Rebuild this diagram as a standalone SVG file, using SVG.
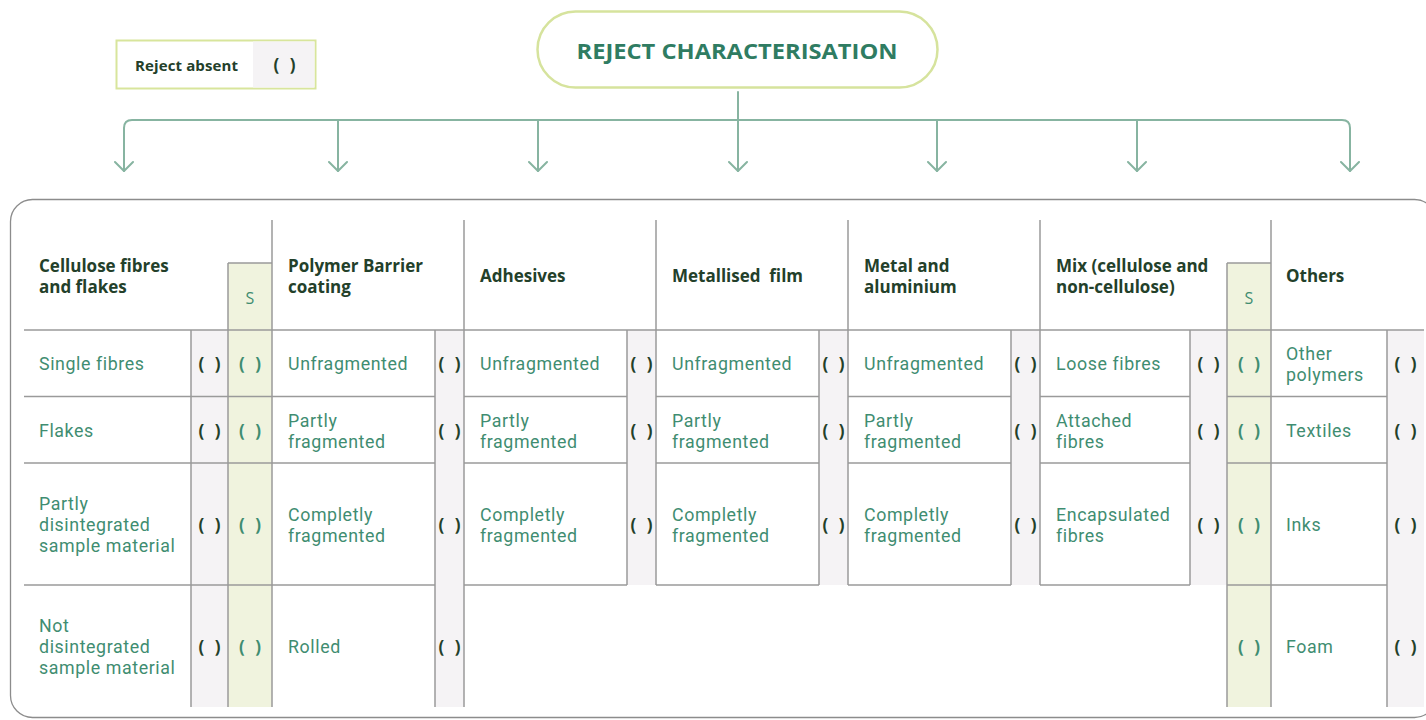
<svg xmlns="http://www.w3.org/2000/svg" width="1426" height="720" viewBox="0 0 1426 720">
<defs>
<style>
text{font-family:"Open Sans","Liberation Sans",sans-serif;}
.hd{font-size:17px;font-weight:700;fill:#23402a;white-space:pre;}
.tx{font-family:Roboto,"Liberation Sans",sans-serif;font-size:17.8px;fill:#3f8d71;letter-spacing:0.6px;}
.s{font-size:16px;fill:#3f8d71;text-anchor:middle;}
.pd{font-size:17px;font-weight:700;fill:#23402a;text-anchor:middle;letter-spacing:3px;}
.pg{font-size:17px;font-weight:700;fill:#3f8d71;text-anchor:middle;letter-spacing:3px;}
.ln{stroke:#9a9a9a;stroke-width:1.5;fill:none;}
.gr{fill:#f5f3f5;}
.sc{fill:#f0f3de;}
.ar{stroke:#87b4a1;stroke-width:2;fill:none;stroke-linecap:round;stroke-linejoin:round;}
</style>
</defs>

<g id="legend">
<rect x="116.5" y="40.5" width="199" height="48" fill="#fff" stroke="#d8e59c" stroke-width="2"/>
<rect x="253" y="41.5" width="61.5" height="46" class="gr"/>
<text x="135" y="71" font-size="15" font-weight="700" fill="#23402a" textLength="103">Reject absent</text>
<text x="286" y="71" class="pd">( )</text>
</g>

<g id="title">
<rect x="537.5" y="11.5" width="400" height="76" rx="38" fill="#fff" stroke="#d6e39d" stroke-width="2.5"/>
<text x="737" y="59" font-size="22" font-weight="700" fill="#2f7c62" text-anchor="middle" textLength="321" lengthAdjust="spacingAndGlyphs">REJECT CHARACTERISATION</text>
</g>

<g id="connectors">
<path class="ar" d="M124,171 V128 Q124,120 132,120 H1342 Q1350,120 1350,128 V171"/>
<path class="ar" d="M738,92 V171 M338,120 V171 M538,120 V171 M937,120 V171 M1137,120 V171"/>
<path class="ar" d="M115,162 L124,171 L133,162 M329,162 L338,171 L347,162 M529,162 L538,171 L547,162 M729,162 L738,171 L747,162 M928,162 L937,171 L946,162 M1128,162 L1137,171 L1146,162 M1341,162 L1350,171 L1359,162"/>
</g>

<g id="table">
<rect x="10.5" y="199.5" width="1426" height="518" rx="22" fill="#fff" stroke="#8c8c8c" stroke-width="1.3"/>
<rect x="191" y="330" width="37" height="377" class="gr"/>
<rect x="228" y="263" width="44" height="444" class="sc"/>
<rect x="435" y="330" width="29" height="377" class="gr"/>
<rect x="627" y="330" width="29" height="255" class="gr"/>
<rect x="819" y="330" width="29" height="255" class="gr"/>
<rect x="1011" y="330" width="29" height="255" class="gr"/>
<rect x="1190" y="330" width="37" height="255" class="gr"/>
<rect x="1227" y="263" width="44" height="444" class="sc"/>
<rect x="1387" y="330" width="37" height="377" class="gr"/>
<path class="ln" d="M24,330 H1424
M24,396.5 H272 M24,463 H272 M24,585 H272
M191,330 V707 M228,263 V707 M272,220 V707 M228,263 H272
M272,396.5 H435 M272,463 H435 M272,585 H435 M435,330 V707 M464,220 V707
M464,396.5 H627 M464,463 H627 M464,585 H627 M627,330 V585 M656,220 V585
M656,396.5 H819 M656,463 H819 M656,585 H819 M819,330 V585 M848,220 V585
M848,396.5 H1011 M848,463 H1011 M848,585 H1011 M1011,330 V585 M1040,220 V585
M1040,396.5 H1190 M1040,463 H1190 M1040,585 H1190 M1190,330 V585
M1227,263 V707 M1271,220 V707 M1227,263 H1271 M1227,396.5 H1271 M1227,463 H1271 M1227,585 H1271
M1271,396.5 H1387 M1271,463 H1387 M1271,585 H1387 M1387,330 V707"/>
</g>

<g id="col-cellulose">
<text class="hd" x="39" y="272">Cellulose fibres<tspan x="39" dy="21">and flakes</tspan></text>
<text class="s" x="250" y="304">S</text>
<text class="tx" x="39" y="370">Single fibres</text>
<text class="tx" x="39" y="437">Flakes</text>
<text class="tx" x="39" y="510">Partly<tspan x="39" dy="21">disintegrated</tspan><tspan x="39" dy="21">sample material</tspan></text>
<text class="tx" x="39" y="632">Not<tspan x="39" dy="21">disintegrated</tspan><tspan x="39" dy="21">sample material</tspan></text>
<text class="pd" x="211" y="370">( )</text>
<text class="pd" x="211" y="437">( )</text>
<text class="pd" x="211" y="531">( )</text>
<text class="pd" x="211" y="653">( )</text>
<text class="pg" x="251.5" y="370">( )</text>
<text class="pg" x="251.5" y="437">( )</text>
<text class="pg" x="251.5" y="531">( )</text>
<text class="pg" x="251.5" y="653">( )</text>
</g>

<g id="col-polymer">
<text class="hd" x="288" y="272">Polymer Barrier<tspan x="288" dy="21">coating</tspan></text>
<text class="tx" x="288" y="370">Unfragmented</text>
<text class="tx" x="288" y="427">Partly<tspan x="288" dy="21">fragmented</tspan></text>
<text class="tx" x="288" y="521">Completly<tspan x="288" dy="21">fragmented</tspan></text>
<text class="tx" x="288" y="653">Rolled</text>
<text class="pd" x="451" y="370">( )</text>
<text class="pd" x="451" y="437">( )</text>
<text class="pd" x="451" y="531">( )</text>
<text class="pd" x="451" y="653">( )</text>
</g>

<g id="col-adhesives">
<text class="hd" x="480" y="282">Adhesives</text>
<text class="tx" x="480" y="370">Unfragmented</text>
<text class="tx" x="480" y="427">Partly<tspan x="480" dy="21">fragmented</tspan></text>
<text class="tx" x="480" y="521">Completly<tspan x="480" dy="21">fragmented</tspan></text>
<text class="pd" x="643" y="370">( )</text>
<text class="pd" x="643" y="437">( )</text>
<text class="pd" x="643" y="531">( )</text>
</g>

<g id="col-metallised">
<text class="hd" x="672" y="282">Metallised  film</text>
<text class="tx" x="672" y="370">Unfragmented</text>
<text class="tx" x="672" y="427">Partly<tspan x="672" dy="21">fragmented</tspan></text>
<text class="tx" x="672" y="521">Completly<tspan x="672" dy="21">fragmented</tspan></text>
<text class="pd" x="835" y="370">( )</text>
<text class="pd" x="835" y="437">( )</text>
<text class="pd" x="835" y="531">( )</text>
</g>

<g id="col-metal">
<text class="hd" x="864" y="272">Metal and<tspan x="864" dy="21">aluminium</tspan></text>
<text class="tx" x="864" y="370">Unfragmented</text>
<text class="tx" x="864" y="427">Partly<tspan x="864" dy="21">fragmented</tspan></text>
<text class="tx" x="864" y="521">Completly<tspan x="864" dy="21">fragmented</tspan></text>
<text class="pd" x="1027" y="370">( )</text>
<text class="pd" x="1027" y="437">( )</text>
<text class="pd" x="1027" y="531">( )</text>
</g>

<g id="col-mix">
<text class="hd" x="1056" y="272">Mix (cellulose and<tspan x="1056" dy="21">non-cellulose)</tspan></text>
<text class="s" x="1249" y="304">S</text>
<text class="tx" x="1056" y="370">Loose fibres</text>
<text class="tx" x="1056" y="427">Attached<tspan x="1056" dy="21">fibres</tspan></text>
<text class="tx" x="1056" y="521">Encapsulated<tspan x="1056" dy="21">fibres</tspan></text>
<text class="pd" x="1210" y="370">( )</text>
<text class="pd" x="1210" y="437">( )</text>
<text class="pd" x="1210" y="531">( )</text>
<text class="pg" x="1250.5" y="370">( )</text>
<text class="pg" x="1250.5" y="437">( )</text>
<text class="pg" x="1250.5" y="531">( )</text>
<text class="pg" x="1250.5" y="653">( )</text>
</g>

<g id="col-others">
<text class="hd" x="1286" y="282">Others</text>
<text class="tx" x="1286" y="360">Other<tspan x="1286" dy="21">polymers</tspan></text>
<text class="tx" x="1286" y="437">Textiles</text>
<text class="tx" x="1286" y="531">Inks</text>
<text class="tx" x="1286" y="653">Foam</text>
<text class="pd" x="1407" y="370">( )</text>
<text class="pd" x="1407" y="437">( )</text>
<text class="pd" x="1407" y="531">( )</text>
<text class="pd" x="1407" y="653">( )</text>
</g>
</svg>
